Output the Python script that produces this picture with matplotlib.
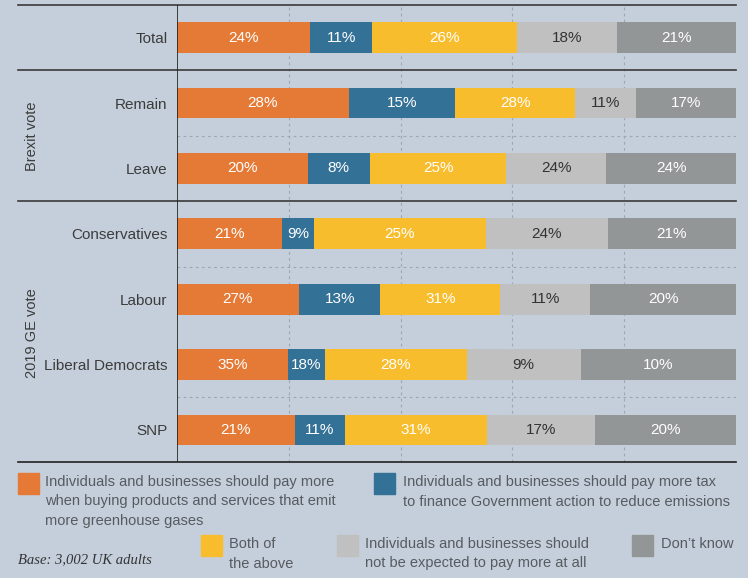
"""
Stacked bar chart: who should pay for reducing emissions,
by Brexit vote and 2019 GE vote.
"""

import numpy as np
import matplotlib
matplotlib.use("Agg")
import matplotlib.pyplot as plt
from matplotlib.patches import Rectangle

# DATA
categories = ["Total", "Remain", "Leave", "Conservatives", "Labour",
              "Liberal Democrats", "SNP"]

# segment widths as drawn in the picture (share of the bar, %)
w_orange = [23.8, 30.7, 23.4, 18.8, 21.8, 19.8, 21.1]
w_blue = [11.1, 19.1, 11.1, 5.7, 14.6, 6.6, 8.9]
w_yellow = [25.9, 21.4, 24.4, 30.7, 21.4, 25.4, 25.5]
w_light = [17.9, 10.9, 17.9, 21.9, 16.1, 20.4, 19.3]
w_dark = [21.3, 17.9, 23.2, 22.9, 26.1, 27.8, 25.2]

# printed labels
l_orange = [24, 28, 20, 21, 27, 35, 21]
l_blue = [11, 15, 8, 9, 13, 18, 11]
l_yellow = [26, 28, 25, 25, 31, 28, 31]
l_light = [18, 11, 24, 24, 11, 9, 17]
l_dark = [21, 17, 24, 21, 20, 10, 20]

legend_labels = [
    "Individuals and businesses should pay more\nwhen buying products and services that emit\nmore greenhouse gases",
    "Individuals and businesses should pay more tax\nto finance Government action to reduce emissions",
    "Both of\nthe above",
    "Individuals and businesses should\nnot be expected to pay more at all",
    "Don\u2019t know",
]

# STYLE
BG = "#c5cfdb"
C_ORANGE = "#e47a35"
C_BLUE = "#347196"
C_YELLOW = "#f8bd2c"
C_LIGHT = "#bfc0bf"
C_DARK = "#939696"
TXT = "#3c3c3c"
LEG_TXT = "#565b60"
LINE = "#3a3a3a"
GRID = "#a0a6ad"

plt.rcParams['font.family'] = ['Liberation Sans', 'DejaVu Sans']

fig = plt.figure(figsize=(7.48, 5.78), dpi=100, facecolor=BG)
ax = fig.add_axes([177/748, (578-462)/578, 559/748, 457/578])
ax.set_facecolor(BG)

y = np.arange(len(categories))
widths = [w_orange, w_blue, w_yellow, w_light, w_dark]
labels = [l_orange, l_blue, l_yellow, l_light, l_dark]
colors = [C_ORANGE, C_BLUE, C_YELLOW, C_LIGHT, C_DARK]
txt_colors = ["white", "white", "white", "#333333", "white"]

left = np.zeros(len(categories))
for w, lab, c, tc in zip(widths, labels, colors, txt_colors):
    w = np.array(w)
    ax.barh(y, w, left=left, height=0.47, color=c, zorder=3)
    for yi, (l0, wi, li) in enumerate(zip(left, w, lab)):
        ax.text(l0 + wi/2, yi, f"{li}%", ha="center", va="center",
                color=tc, fontsize=11, zorder=4)
    left += w

ax.set_xlim(0, 100)
ax.set_ylim(6.49, -0.5)

# vertical dashed gridlines
for gx in [20, 40, 60, 80]:
    ax.axvline(gx, color=GRID, lw=0.8, ls=(0, (2.5, 3)), zorder=1)

# solid separators (extend into the label area)
for sy in [-0.5, 0.5, 2.5]:
    ax.axhline(sy, xmin=-0.285, xmax=1.0, color=LINE, lw=1.2,
               clip_on=False, zorder=5)
ax.axhline(6.49, xmin=-0.285, xmax=1.0, color="#222222", lw=1.2,
           clip_on=False, zorder=5)
# dashed separators inside groups
for sy in [1.5, 3.5, 5.5]:
    ax.axhline(sy, color=GRID, lw=0.8, ls=(0, (2.5, 3)), zorder=1)

ax.axvline(0, color="#222222", lw=1.2, zorder=5)

for s in ax.spines.values():
    s.set_visible(False)
ax.set_xticks([])
ax.set_yticks(y)
ax.set_yticklabels(categories, fontsize=11, color=TXT)
ax.tick_params(axis="y", length=0, pad=7)

# group labels
fig.text(32/748, 1 - 136/578, "Brexit vote", rotation=90, ha="center",
         va="center", fontsize=10.5, color=TXT)
fig.text(32/748, 1 - 333/578, "2019 GE vote", rotation=90, ha="center",
         va="center", fontsize=10.5, color=TXT)

# LEGEND (manual layout)
legend_pos = [(18, 473, 45), (374, 473, 403), (201, 535, 229),
              (337, 535, 365), (632, 535, 661)]
for (sx, sy, tx), lab, c in zip(legend_pos, legend_labels, colors):
    fig.patches.append(Rectangle((sx/748, 1 - (sy+21)/578), 21/748, 21/578,
                                 transform=fig.transFigure, color=c))
    fig.text(tx/748, 1 - (sy+2)/578, lab, ha="left", va="top",
             fontsize=10.5, color=LEG_TXT, linespacing=1.5)

fig.text(18/748, 1 - 560/578, "Base: 3,002 UK adults", ha="left",
         va="center", fontsize=10.5, style="italic", color="#333333",
         family=["Liberation Serif", "DejaVu Serif"])

fig.savefig("out.png", dpi=100, facecolor=BG)
